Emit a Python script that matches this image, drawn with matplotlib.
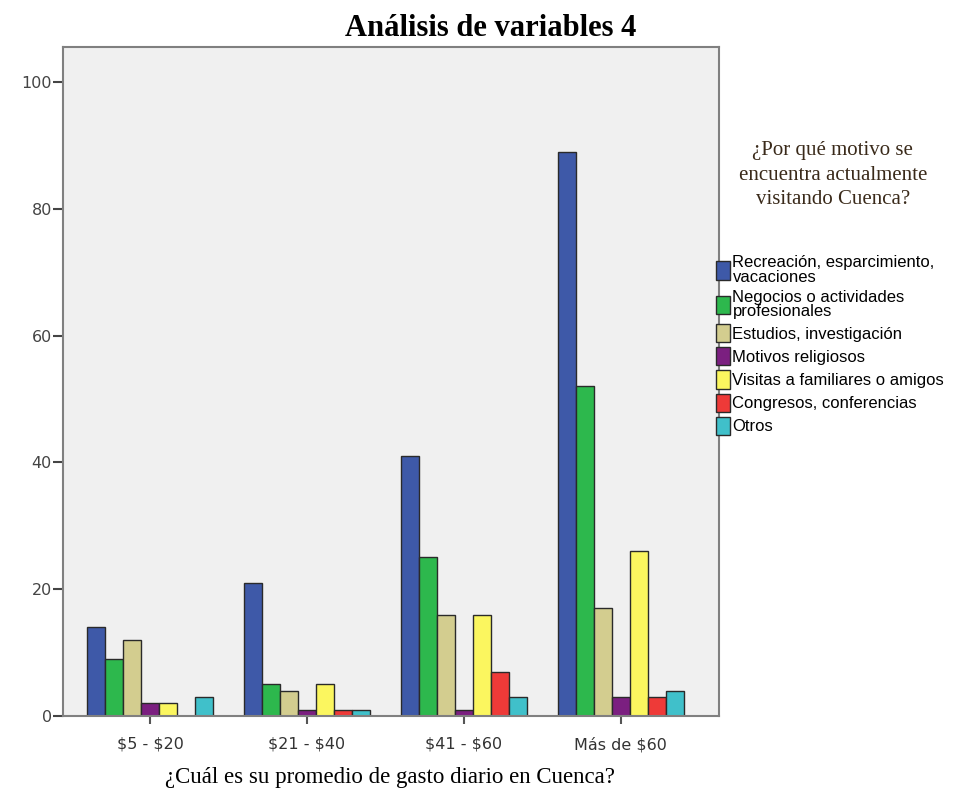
import numpy as np
import matplotlib.pyplot as plt
from matplotlib.patches import Patch

# data
groups = [r"\$5 - \$20", r"\$21 - \$40", r"\$41 - \$60", r"Más de \$60"]
motivos = ["Recreación, esparcimiento,\nvacaciones",
           "Negocios o actividades\nprofesionales",
           "Estudios, investigación",
           "Motivos religiosos",
           "Visitas a familiares o amigos",
           "Congresos, conferencias",
           "Otros"]
recreacion = [14, 21, 41, 89]
negocios = [9, 5, 25, 52]
estudios = [12, 4, 16, 17]
religiosos = [2, 1, 1, 3]
visitas = [2, 5, 16, 26]
congresos = [0, 1, 7, 3]
otros = [3, 1, 3, 4]
series = [recreacion, negocios, estudios, religiosos, visitas, congresos, otros]
colors = ["#3e59a8", "#2db84d", "#d3cd8f", "#7b1f80", "#fbf65f", "#ee3a38", "#40c0ca"]

fig = plt.figure(figsize=(9.66, 7.93), dpi=100)
ax = fig.add_axes([0.0652, 0.0971, 0.679, 0.8436])
ax.set_facecolor("#f0f0f0")

x = np.arange(len(groups))
w = 0.115
for i, (vals, c) in enumerate(zip(series, colors)):
    off = (i - 3) * w
    for xi, v in zip(x, vals):
        if v > 0:
            ax.bar(xi + off, v, width=w, color=c, edgecolor="#2a2a2a", linewidth=1.0)

ax.set_xlim(-0.554, 3.624)
ax.set_ylim(0, 105.5)
ax.set_yticks([0, 20, 40, 60, 80, 100])
ax.set_xticks(x)
ax.set_xticklabels(groups, fontsize=11.5, color="#333333", family="DejaVu Sans")
ax.tick_params(axis="y", labelsize=11.5, colors="#444444", length=7, width=1.5,
               direction="out", pad=1)
ax.tick_params(axis="x", length=6, width=1.5, color="#555555", pad=9)
for s in ax.spines.values():
    s.set_color("#808080")
    s.set_linewidth(1.5)

fig.text(0.508, 0.964, "Análisis de variables 4", ha="center", va="center",
         family="Liberation Serif", fontweight="bold", fontsize=22)
fig.text(0.404, 0.019, "¿Cuál es su promedio de gasto diario en Cuenca?", ha="center",
         va="center", family="Liberation Serif", fontsize=16.5)

fig.text(0.862, 0.779, "¿Por qué motivo se\nencuentra actualmente\nvisitando Cuenca?",
         ha="center", va="center", family="Liberation Serif", fontsize=15,
         color="#3a2a1a", linespacing=1.4)

handles = [Patch(facecolor=c, edgecolor="#2a2a2a", linewidth=1.0) for c in colors]
leg = fig.legend(handles, motivos, loc="upper left", bbox_to_anchor=(0.741, 0.678),
                 frameon=False, handlelength=0.85, handleheight=1.3,
                 handletextpad=0.15, labelspacing=0.3, borderpad=0, borderaxespad=0,
                 prop={"family": "Liberation Sans", "size": 12})
for t in leg.get_texts():
    t.set_linespacing(0.95)

fig.savefig("out.png", dpi=100)
